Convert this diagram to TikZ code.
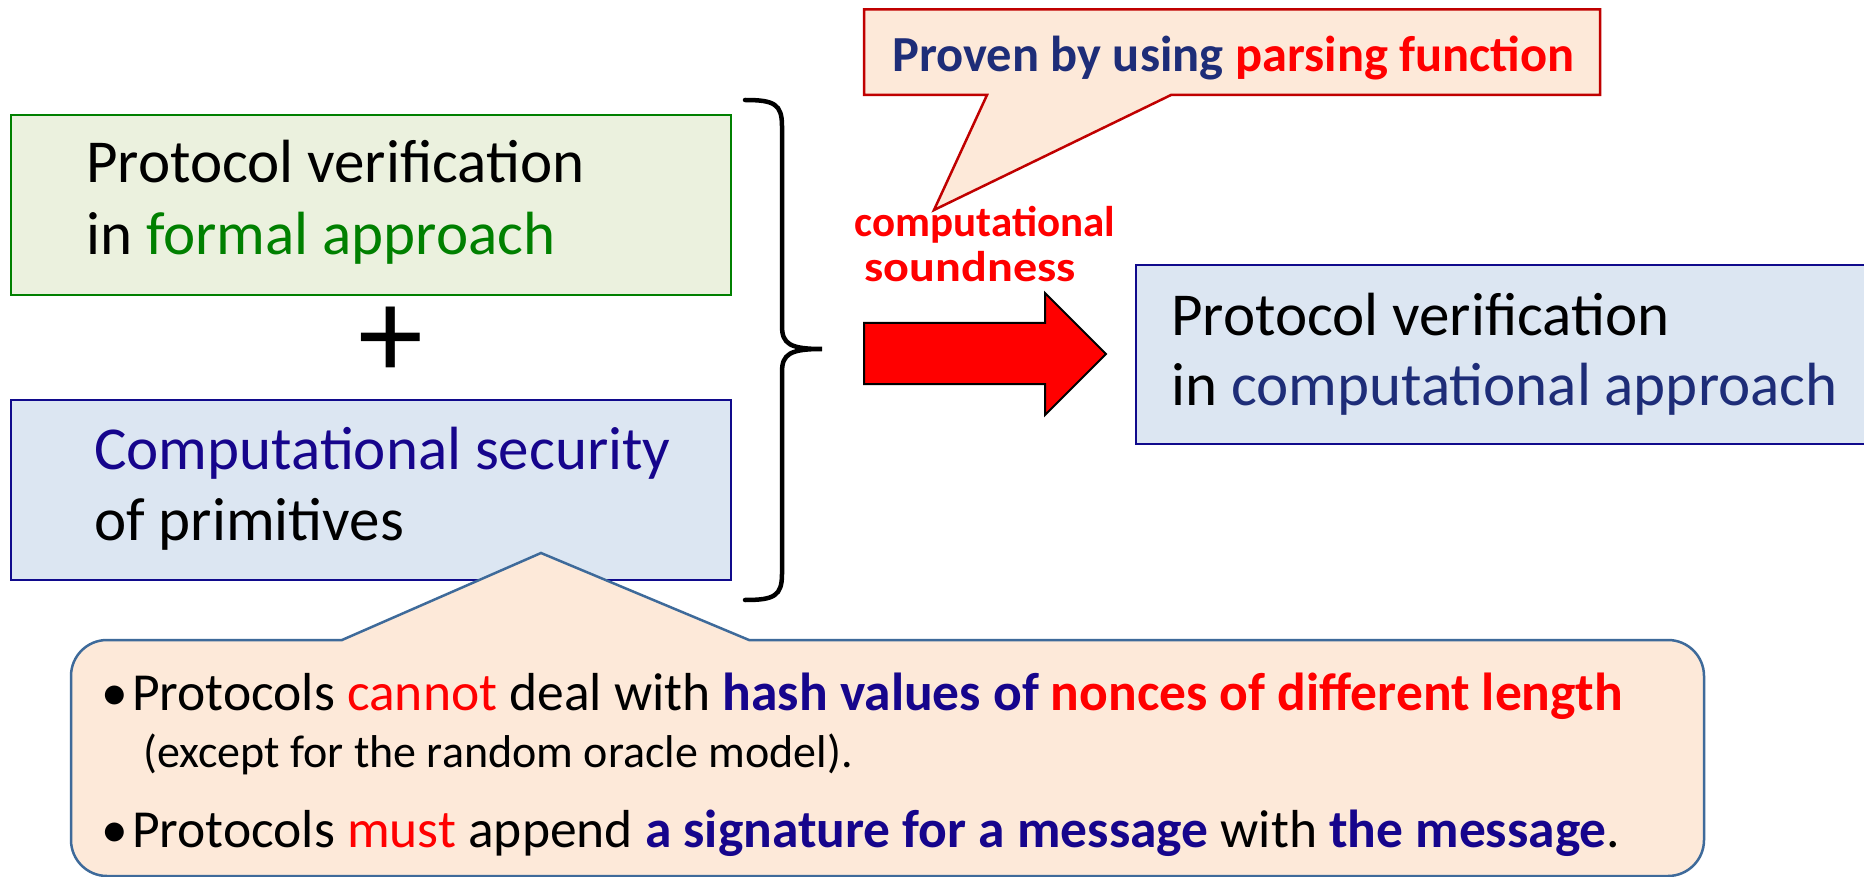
\documentclass[tikz,border=0pt]{standalone}
\usepackage{fontspec}
\setmainfont{Carlito}

\definecolor{gfill}{HTML}{EBF1DE}
\definecolor{gline}{HTML}{008000}
\definecolor{bfill}{HTML}{DCE6F2}
\definecolor{bline}{RGB}{16,10,140}
\definecolor{peach}{HTML}{FDE9D9}
\definecolor{calred}{HTML}{C00000}
\definecolor{calblue}{HTML}{3E6A9A}
\definecolor{indigo}{RGB}{22,5,140}
\definecolor{navytext}{RGB}{30,45,120}
\definecolor{formalgreen}{RGB}{0,128,0}

\begin{document}
\begin{tikzpicture}[x=1pt,y=1pt,
  bigtxt/.style={inner sep=0pt, anchor=base west, font=\fontsize{61}{72}\selectfont},
  bullettxt/.style={inner sep=0pt, anchor=base west, font=\fontsize{53.5}{60}\selectfont},
  smalltxt/.style={inner sep=0pt, anchor=base west, font=\fontsize{46}{52}\selectfont},
  soundtxt/.style={inner sep=0pt, anchor=base, text=red, font=\bfseries\fontsize{43}{46}\selectfont},
  boxg/.style={draw=gline, fill=gfill, line width=2pt, inner sep=0pt},
  boxb/.style={draw=bline, fill=bfill, line width=2pt, inner sep=0pt},
  callout/.style={fill=peach, line width=2.5pt, line join=miter}]

\useasboundingbox (0,0) rectangle (1864,-877);
\fill[white] (0,0) rectangle (1864,-877);

% left column: the two ingredients
\node[boxg, minimum width=720pt, minimum height=180pt, anchor=north west] (formal) at (9.5,-114) {};
\node[bigtxt] (formal1) at (86,-183) {Protocol verification};
\node[bigtxt] (formal2) at (86,-255) {in \textcolor{formalgreen}{formal approach}};

\node[inner sep=0pt, font=\fontsize{130}{130}\selectfont] (plus) at (391,-343) {+};

\node[boxb, minimum width=720pt, minimum height=180pt, anchor=north west] (prim) at (9.5,-399) {};
\node[bigtxt] (prim1) at (94,-469) {\textcolor{indigo}{Computational security}};
\node[bigtxt] (prim2) at (94,-540) {of primitives};

% brace grouping the two ingredients
\draw[line width=4.5pt, line cap=round]
  (745,-100) .. controls (774,-100) and (782,-104) .. (782,-126)
  -- (782,-326) .. controls (782,-344) and (790,-349) .. (822,-349)
  .. controls (790,-349) and (782,-354) .. (782,-372)
  -- (782,-574) .. controls (782,-596) and (774,-600) .. (745,-600);

% block arrow towards the result
\filldraw[fill=red, draw=black, line width=2pt, line join=miter]
  (864,-323) -- (1045,-323) -- (1045,-293) -- (1106,-354)
  -- (1045,-415) -- (1045,-384) -- (864,-384) -- cycle;
\node[soundtxt] (sound1) at (985,-237) {computational};
\node[soundtxt] (sound2) at (970,-282) {\scalebox{1.12}[1]{soundness}};

% result box
\node[boxb, minimum width=740pt, minimum height=179pt, anchor=north west] (result) at (1135,-264) {};
\node[bigtxt] (result1) at (1171,-336) {Protocol verification};
\node[bigtxt] (result2) at (1171,-405) {in \textcolor{navytext}{computational approach}};

% callout on the soundness label
\filldraw[callout, draw=calred]
  (864,-9.5) -- (1600,-9.5) -- (1600,-95) -- (1171,-95) -- (934,-210)
  -- (987,-95) -- (864,-95) -- cycle;
\node[inner sep=0pt, anchor=base west, font=\bfseries\fontsize{50.5}{56}\selectfont]
  (proven) at (892,-72) {\textcolor{navytext}{Proven by using} \textcolor{red}{parsing function}};

% callout on the primitives box
\filldraw[callout, draw=calblue]
  (749,-640) -- (1668,-640) arc[start angle=90, end angle=0, radius=36pt]
  -- (1704,-840) arc[start angle=0, end angle=-90, radius=36pt]
  -- (107,-876) arc[start angle=270, end angle=180, radius=36pt]
  -- (71,-676) arc[start angle=180, end angle=90, radius=36pt]
  -- (342,-640) -- (541,-553) -- cycle;
\node[bullettxt] (limit1) at (101,-710) {\makebox[31pt][l]{•}Protocols \textcolor{red}{cannot} deal with \textbf{\textcolor{indigo}{hash values of} \textcolor{red}{nonces of different length}}};
\node[smalltxt] (limit1b) at (143,-767) {(except for the random oracle model).};
\node[bullettxt] (limit2) at (101,-847) {\makebox[31pt][l]{•}Protocols \textcolor{red}{must} append \textbf{\textcolor{indigo}{a signature for a message}} with \textbf{\textcolor{indigo}{the message}}.};

\end{tikzpicture}
\end{document}
